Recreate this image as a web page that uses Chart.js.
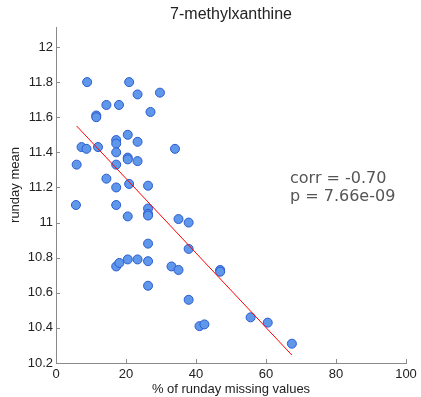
<!DOCTYPE html>
<html>
<head>
<meta charset="utf-8">
<script src="https://cdn.jsdelivr.net/npm/chart.js@4/dist/chart.umd.min.js"></script>
<style>
  html, body { margin: 0; padding: 0; background: #fff; }
  #wrap { width: 421px; height: 397px; position: relative; }
</style>
</head>
<body>
<div id="wrap"><canvas id="chart" width="421" height="397"></canvas></div>
<script>
// ── data ──
const missingPct = [8.9, 20.9, 23.3, 29.7, 14.4, 18.0, 27.0, 11.5, 11.5, 20.5,
  17.2, 17.2, 23.3, 7.3, 8.7, 12.0, 34.0, 17.2, 5.9, 17.2,
  20.5, 20.5, 23.3, 14.4, 20.9, 17.2, 26.3, 5.7, 17.2, 26.3,
  26.3, 26.3, 20.5, 35.0, 37.9, 26.3, 37.9, 17.2, 18.1, 20.5,
  23.3, 26.3, 33.0, 35.0, 26.3, 37.9, 41.0, 42.4, 46.9, 46.9,
  55.6, 60.5, 67.4];
const rundayMean = [11.80, 11.80, 11.73, 11.74, 11.67, 11.67, 11.63, 11.61, 11.60, 11.50,
  11.47, 11.45, 11.46, 11.43, 11.42, 11.43, 11.42, 11.40, 11.33, 11.33,
  11.37, 11.36, 11.35, 11.25, 11.22, 11.20, 11.21, 11.10, 11.10, 11.08,
  11.05, 11.04, 11.035, 11.02, 11.00, 10.88, 10.85, 10.75, 10.77, 10.79,
  10.79, 10.78, 10.75, 10.73, 10.64, 10.56, 10.41, 10.42, 10.73, 10.72,
  10.46, 10.43, 10.31];
const fitX = [5.9, 67.4];
const fitY = [11.55, 10.245];
const xTicks = [0, 20, 40, 60, 80, 100];
const yTicks = [10.2, 10.4, 10.6, 10.8, 11, 11.2, 11.4, 11.6, 11.8, 12];
const titleText = '7-methylxanthine';
const xLabel = '% of runday missing values';
const yLabel = 'runday mean';
const statLines = ['corr = -0.70', 'p = 7.66e-09'];

const AXIS = '#8a8a8a';
const TXT = '#222';

// inward tick marks + all free text
const decor = {
  id: 'decor',
  afterDraw(chart) {
    const { ctx, chartArea: a, scales: { x, y } } = chart;
    ctx.save();
    ctx.strokeStyle = AXIS;
    ctx.lineWidth = 1;
    ctx.beginPath();
    xTicks.forEach(v => {
      const px = Math.round(x.getPixelForValue(v)) + 0.5;
      ctx.moveTo(px, a.bottom);
      ctx.lineTo(px, a.bottom - 4);
    });
    yTicks.forEach(v => {
      const py = Math.round(y.getPixelForValue(v)) + 0.5;
      ctx.moveTo(a.left, py);
      ctx.lineTo(a.left + 4, py);
    });
    ctx.stroke();

    ctx.fillStyle = TXT;
    ctx.textAlign = 'center';
    ctx.textBaseline = 'middle';
    ctx.font = '16px "Liberation Sans", Arial, sans-serif';
    ctx.fillText(titleText, (a.left + a.right) / 2, 15);
    ctx.font = '13px "Liberation Sans", Arial, sans-serif';
    ctx.fillText(xLabel, (a.left + a.right) / 2, 389);
    ctx.save();
    ctx.translate(15, 185);
    ctx.rotate(-Math.PI / 2);
    ctx.fillText(yLabel, 0, 0);
    ctx.restore();

    ctx.fillStyle = '#555';
    ctx.textAlign = 'left';
    ctx.font = '16px "DejaVu Sans", sans-serif';
    statLines.forEach((s, i) => ctx.fillText(s, 290, 179 + i * 18));
    ctx.restore();
  }
};

new Chart(document.getElementById('chart'), {
  type: 'scatter',
  data: {
    datasets: [
      {
        type: 'line',
        data: fitX.map((v, i) => ({ x: v, y: fitY[i] })),
        borderColor: '#ff0000',
        borderWidth: 1,
        pointRadius: 0,
        fill: false,
        order: 0
      },
      {
        data: missingPct.map((v, i) => ({ x: v, y: rundayMean[i] })),
        backgroundColor: '#5f97ea',
        borderColor: '#2a5bd0',
        borderWidth: 1,
        pointRadius: 4.5,
        order: 1
      }
    ]
  },
  options: {
    responsive: false,
    animation: false,
    devicePixelRatio: 1,
    layout: { padding: { top: 27, right: 15, left: 0, bottom: 0 } },
    plugins: { legend: { display: false }, tooltip: { enabled: false } },
    scales: {
      x: {
        type: 'linear',
        min: 0, max: 100,
        afterBuildTicks: s => { s.ticks = xTicks.map(v => ({ value: v })); },
        afterFit: s => { s.height = 34; },
        grid: { display: false, drawTicks: false },
        border: { display: true, color: AXIS, width: 1 },
        ticks: { color: TXT, padding: 4, maxRotation: 0, font: { family: '"Liberation Sans", Arial, sans-serif', size: 13 } }
      },
      y: {
        type: 'linear',
        min: 10.2, max: 12.114,
        afterBuildTicks: s => { s.ticks = yTicks.map(v => ({ value: v })); },
        afterFit: s => { s.width = 56; },
        grid: { display: false, drawTicks: false },
        border: { display: true, color: AXIS, width: 1 },
        ticks: {
          color: TXT, padding: 3,
          font: { family: '"Liberation Sans", Arial, sans-serif', size: 13 },
          callback: v => String(Number(v.toFixed(1)))
        }
      }
    }
  },
  plugins: [decor]
});
</script>
</body>
</html>
